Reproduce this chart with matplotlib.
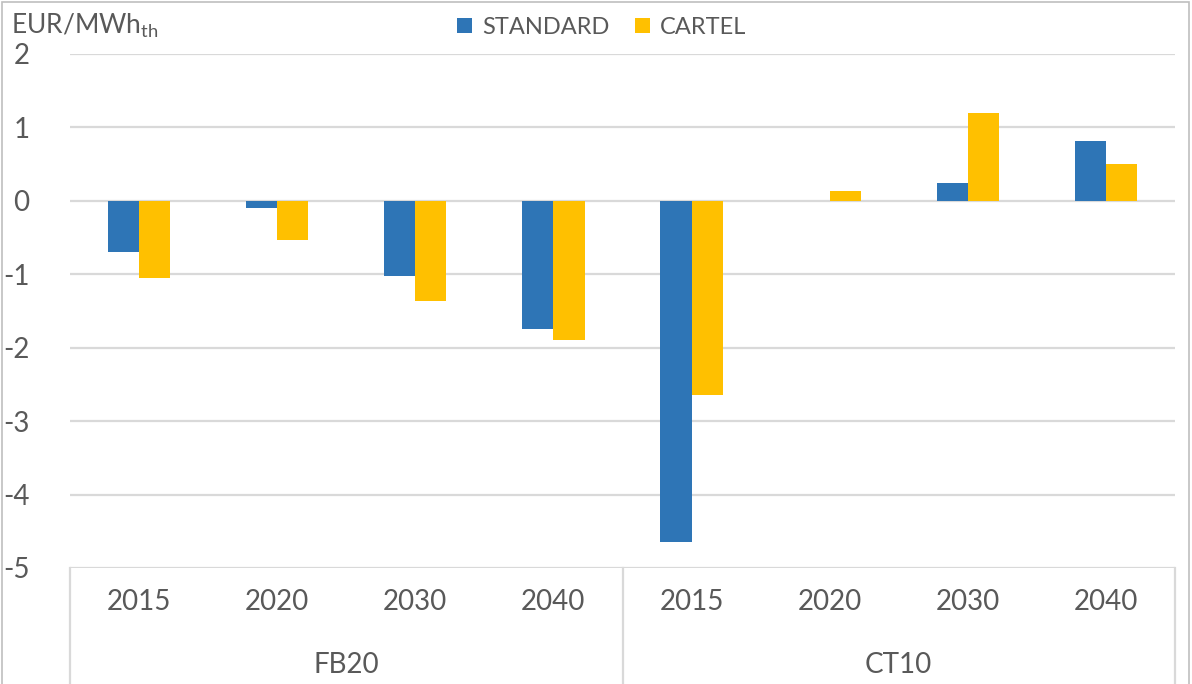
import matplotlib
matplotlib.use("Agg")
import matplotlib.pyplot as plt
import matplotlib.transforms as mtransforms
from matplotlib.patches import Rectangle
import numpy as np

plt.rcParams['font.family'] = ['Lato', 'DejaVu Sans']
plt.rcParams['mathtext.fontset'] = 'custom'
plt.rcParams['mathtext.rm'] = 'Lato'

# data
groups = ['FB20', 'CT10']
years = ['2015', '2020', '2030', '2040']
standard = [-0.69, -0.10, -1.03, -1.75, -4.65, 0.0, 0.24, 0.82]
cartel = [-1.05, -0.53, -1.36, -1.90, -2.64, 0.13, 1.20, 0.50]
series_names = ['STANDARD', 'CARTEL']

blue = '#2E75B6'
gold = '#FFC000'
grey_txt = '#595959'
grid_col = '#D9D9D9'

W, H = 1192, 684
fig = plt.figure(figsize=(W / 100, H / 100), dpi=100)
left, right, top, bottom = 70, 1175, 54, 568
ax = fig.add_axes([left / W, 1 - bottom / H, (right - left) / W, (bottom - top) / H])

x = np.arange(len(standard))
bw = 0.225
ax.bar(x - bw / 2, standard, bw, color=blue, label=series_names[0], zorder=3,
       linewidth=0)
ax.bar(x + bw / 2, cartel, bw, color=gold, label=series_names[1], zorder=3,
       linewidth=0)

ax.set_xlim(-0.5, len(standard) - 0.5)
ax.set_ylim(-5, 2)
ax.set_yticks(range(-5, 3))
ax.set_yticklabels([str(v) for v in range(-5, 3)])
ax.yaxis.grid(True, color=grid_col, linewidth=1.6, zorder=0)
ax.set_axisbelow(True)
for s in ax.spines.values():
    s.set_visible(False)
ax.tick_params(axis='y', length=0, pad=29, labelsize=20, labelcolor=grey_txt)

ax.set_xticks(x)
ax.set_xticklabels(years * len(groups))
ax.tick_params(axis='x', length=0, pad=15, labelsize=20, labelcolor=grey_txt)

# category box below the axis
trans = mtransforms.blended_transform_factory(ax.transData, ax.transAxes)
fig_bottom = -(H - bottom) / (bottom - top)
for xv in [-0.5, 3.5, 7.5]:
    ax.plot([xv, xv], [0, fig_bottom], color=grid_col, linewidth=1.6,
            transform=trans, clip_on=False)
for i, g in enumerate(groups):
    ax.text(i * 4 + 1.5, -(665 - bottom) / (bottom - top), g, transform=trans,
            ha='center', va='center', fontsize=20, color=grey_txt)

# unit label
fig.text(11 / W, 1 - 26 / H, 'EUR/MWh$_{\\mathrm{th}}$', fontsize=19, color=grey_txt,
         ha='left', va='center')

leg = fig.legend(loc='center', bbox_to_anchor=(602 / W, 1 - 27 / H), ncol=2,
                 frameon=False, fontsize=17, handlelength=0.6, handleheight=0.6,
                 handletextpad=0.45, columnspacing=1.1)
for t in leg.get_texts():
    t.set_color(grey_txt)

# outer chart border
fig.patches.append(Rectangle((2 / W, -0.01), (W - 5) / W, 1 - 2 / H + 0.01,
                             transform=fig.transFigure, fill=False,
                             edgecolor='#BFBFBF', linewidth=1.2))

fig.savefig('out.png', dpi=100)
